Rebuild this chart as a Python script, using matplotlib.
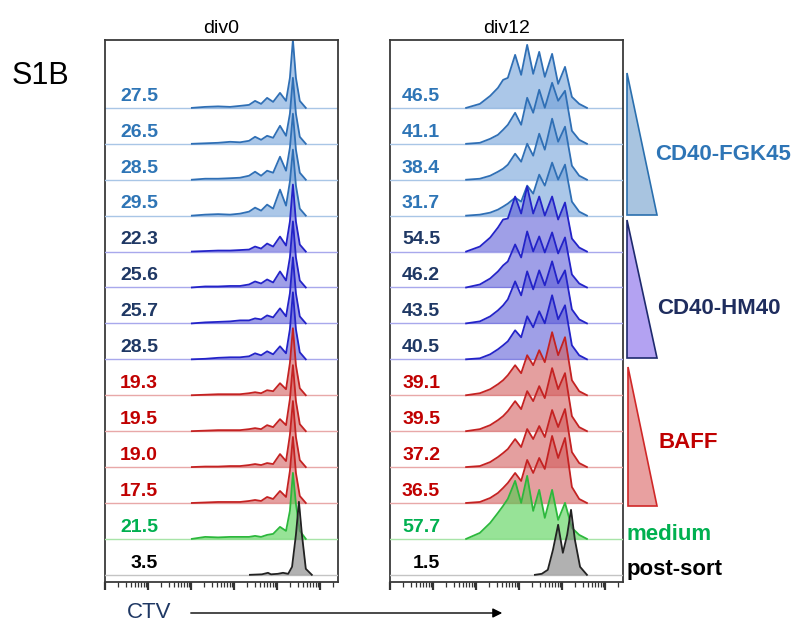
import numpy as np
import matplotlib.pyplot as plt
from matplotlib.patches import Polygon, FancyArrowPatch
from matplotlib.ticker import LogLocator, NullFormatter

plt.rcParams['font.family'] = ['Liberation Sans', 'DejaVu Sans']

W, H = 799, 625

# one row per sample, top to bottom
conditions = ['CD40-FGK45'] * 4 + ['CD40-HM40'] * 4 + ['BAFF'] * 4 + ['medium', 'post-sort']
pct_div0 = [27.5, 26.5, 28.5, 29.5, 22.3, 25.6, 25.7, 28.5, 19.3, 19.5, 19.0, 17.5, 21.5, 3.5]
pct_div12 = [46.5, 41.1, 38.4, 31.7, 54.5, 46.2, 43.5, 40.5, 39.1, 39.5, 37.2, 36.5, 57.7, 1.5]

# histogram outlines: log10(CTV) positions and counts
ctv_div0 = [2.02, 2.33, 2.63, 2.91, 3.14, 3.35, 3.49, 3.63, 3.77, 3.91, 4.07, 4.21, 4.30, 4.37, 4.44, 4.53, 4.67]
counts_div0 = [
    [0, 1, 1.5, 1, 2, 3, 7, 4, 10, 6, 15, 7, 30, 68, 30, 7, 0],
    [0, 0.5, 1, 2, 1.5, 3, 7, 4, 8, 6, 18, 8, 30, 66, 30, 7, 0],
    [0, 1, 1, 1.5, 2, 4, 8, 4, 9, 7, 23, 9, 32, 66, 30, 7, 0],
    [0, 1, 1.5, 1, 2, 4, 8, 5, 11, 7, 26, 10, 34, 66, 30, 7, 0],
    [0, 0.5, 1, 1, 1.5, 2, 5, 3, 8, 5, 15, 6, 30, 67, 30, 7, 0],
    [0, 1, 1, 1.5, 1.5, 3, 6, 4, 8, 5, 16, 7, 30, 66, 30, 7, 0],
    [0, 1, 1.5, 2, 3, 3, 5, 4, 8, 6, 15, 7, 30, 66, 30, 7, 0],
    [0, 0.5, 1.5, 2, 2, 3, 6, 4, 8, 5, 13, 6, 30, 67, 30, 7, 0],
    [0, 0.5, 1, 1, 1, 2, 3, 2, 5, 4, 12, 6, 32, 67, 30, 7, 0],
    [0, 0.5, 1, 1, 1, 2, 3, 2, 6, 4, 12, 6, 32, 66, 30, 7, 0],
    [0, 0.5, 0.5, 1, 1, 2, 3, 2, 4, 3, 13, 6, 32, 66, 30, 7, 0],
    [0, 0.5, 1, 1, 1, 2, 3, 2, 6, 4, 12, 6, 32, 66, 30, 7, 0],
    [0, 2, 1.5, 2, 2, 2, 3, 2, 4, 5, 12, 8, 28, 66, 35, 8, 0],
]
ctv_div0_sort = [3.37, 3.65, 3.79, 3.86, 4.02, 4.14, 4.26, 4.35, 4.44, 4.51, 4.58, 4.67, 4.81]
counts_div0_sort = [0, 0.5, 2, 0.5, 1, 2, 1, 8, 40, 73, 40, 6, 0]

ctv_div12 = [1.77, 2.09, 2.33, 2.51, 2.63, 2.74, 2.91, 3.05, 3.19, 3.33, 3.47, 3.60, 3.77, 3.91, 4.07, 4.23, 4.40, 4.58]
counts_div12 = [
    [0, 4, 12, 20, 28, 30, 53, 33, 63, 34, 56, 31, 54, 24, 41, 11, 4, 0],
    [0, 1, 5, 9, 14, 19, 31, 19, 46, 31, 54, 36, 61, 43, 53, 13, 4, 0],
    [0, 1, 4, 8, 11, 15, 26, 18, 36, 24, 46, 30, 61, 38, 53, 14, 4, 0],
    [0, 1, 3, 6, 9, 12, 18, 14, 30, 22, 41, 30, 53, 36, 51, 14, 4, 0],
    [0, 5, 14, 24, 32, 33, 55, 38, 65, 38, 55, 36, 55, 32, 49, 13, 4, 0],
    [0, 3, 9, 16, 22, 26, 43, 30, 56, 36, 51, 35, 55, 34, 50, 13, 4, 0],
    [0, 2, 7, 13, 18, 24, 42, 28, 52, 34, 53, 38, 62, 40, 53, 14, 4, 0],
    [0, 1, 5, 10, 14, 18, 29, 22, 43, 32, 48, 36, 64, 40, 54, 14, 4, 0],
    [0, 2, 6, 11, 15, 20, 30, 22, 40, 30, 45, 33, 63, 40, 58, 15, 4, 0],
    [0, 2, 6, 11, 15, 20, 30, 22, 40, 30, 45, 33, 63, 42, 58, 15, 4, 0],
    [0, 1, 5, 10, 14, 18, 28, 20, 38, 28, 41, 30, 57, 40, 58, 15, 4, 0],
    [0, 1, 5, 10, 15, 20, 30, 22, 43, 30, 45, 34, 67, 45, 65, 16, 4, 0],
    [0, 6, 16, 26, 33, 40, 58, 36, 63, 28, 49, 21, 49, 19, 36, 11, 4, 0],
]
ctv_div12_sort = [3.37, 3.53, 3.67, 3.79, 3.91, 4.02, 4.12, 4.21, 4.30, 4.42, 4.58]
counts_div12_sort = [0, 1, 5, 25, 50, 22, 40, 65, 35, 8, 0]

styles = {
    'CD40-FGK45': dict(line='#2f6fb5', fill='#6f9fd8', base='#a9c6e6', text='#2e75b6'),
    'CD40-HM40': dict(line='#2323c8', fill='#5a5ad6', base='#a8a8ec', text='#1f3864'),
    'BAFF': dict(line='#c42222', fill='#d25a5a', base='#e8a8a8', text='#c00000'),
    'medium': dict(line='#2cb83c', fill='#4ccf4c', base='#a8e4a8', text='#00b050'),
    'post-sort': dict(line='#222222', fill='#7a7a7a', base='#c4c4c4', text='black'),
}

PITCH = 35.9  # counts between stacked baselines
n = len(conditions)


def px(x, y):
    return x / W, 1 - y / H


def draw_panel(ax, title, pct, xs, ys, label_x):
    for k in range(n):
        st = styles[conditions[k]]
        y0 = n - 1 - k
        x = 10 ** np.array(xs[k])
        y = y0 + np.array(ys[k]) / PITCH
        ax.axhline(y0, color=st['base'], lw=1.0, zorder=3 * k)
        ax.fill_between(x, y0, y, color=st['fill'], alpha=0.58, lw=0, zorder=3 * k + 1)
        ax.plot(x, y, color=st['line'], lw=1.3, zorder=3 * k + 2)
        ax.text(label_x, y0 + 0.2, f'{pct[k]:.1f}', transform=ax.get_yaxis_transform(),
                ha='right', va='baseline', fontsize=14, fontweight='bold',
                color=st['text'], zorder=100)
    ax.set_xscale('log')
    ax.set_xlim(1, 262144)
    ax.set_ylim(-0.2, 14.89)
    ax.set_yticks([])
    ax.xaxis.set_major_locator(LogLocator(base=10, numticks=10))
    ax.xaxis.set_minor_locator(LogLocator(base=10, subs=np.arange(2, 10), numticks=20))
    ax.xaxis.set_major_formatter(NullFormatter())
    ax.xaxis.set_minor_formatter(NullFormatter())
    ax.tick_params(axis='x', which='major', length=6, width=1.6, color='#333333')
    ax.tick_params(axis='x', which='minor', length=3.5, width=0.9, color='#333333')
    for s in ax.spines.values():
        s.set_color('#3a3a3a')
        s.set_linewidth(1.3)
    ax.set_title(title, fontsize=14, pad=5)


fig = plt.figure(figsize=(W / 100, H / 100), dpi=100)
ax0 = fig.add_axes([105 / W, (H - 582) / H, 233 / W, 542 / H])
ax1 = fig.add_axes([390 / W, (H - 582) / H, 233 / W, 542 / H])

draw_panel(ax0, 'div0', pct_div0, [ctv_div0] * 13 + [ctv_div0_sort],
           counts_div0 + [counts_div0_sort], 0.227)
draw_panel(ax1, 'div12', pct_div12, [ctv_div12] * 13 + [ctv_div12_sort],
           counts_div12 + [counts_div12_sort], 0.215)

fig.text(*px(12, 76), 'S1B', fontsize=22, ha='left', va='center')

# CTV axis arrow
fig.text(*px(127, 613), 'CTV', fontsize=16, ha='left', va='center', color='#1f3864')
fig.add_artist(FancyArrowPatch(px(188, 613), px(505, 613), transform=fig.transFigure,
                               arrowstyle='-|>', mutation_scale=14, lw=1.0, color='black'))

# dose triangles and group labels
triangles = [
    ((627, 73), (627, 215), (657, 215), '#a8c4e0', '#2a6fae'),
    ((627, 220), (627, 358), (657, 358), '#b3a2f2', '#1e2a6e'),
    ((628, 367), (628, 506), (657, 506), '#e8a0a0', '#d02828'),
]
for a, b, c, fc, ec in triangles:
    fig.add_artist(Polygon([px(*a), px(*b), px(*c)], closed=True, transform=fig.transFigure,
                           facecolor=fc, edgecolor=ec, lw=1.2))

fig.text(*px(655, 155), 'CD40-FGK45', fontsize=16, fontweight='bold', color='#2e75b6', va='center')
fig.text(*px(657, 308), 'CD40-HM40', fontsize=16, fontweight='bold', color='#1f2d5e', va='center')
fig.text(*px(658, 442), 'BAFF', fontsize=16, fontweight='bold', color='#c00000', va='center')
fig.text(*px(627, 535), 'medium', fontsize=16, fontweight='bold', color='#00b050', va='center')
fig.text(*px(627, 570), 'post-sort', fontsize=16, fontweight='bold', color='black', va='center')

fig.savefig('out.png', dpi=100)
plt.close(fig)
